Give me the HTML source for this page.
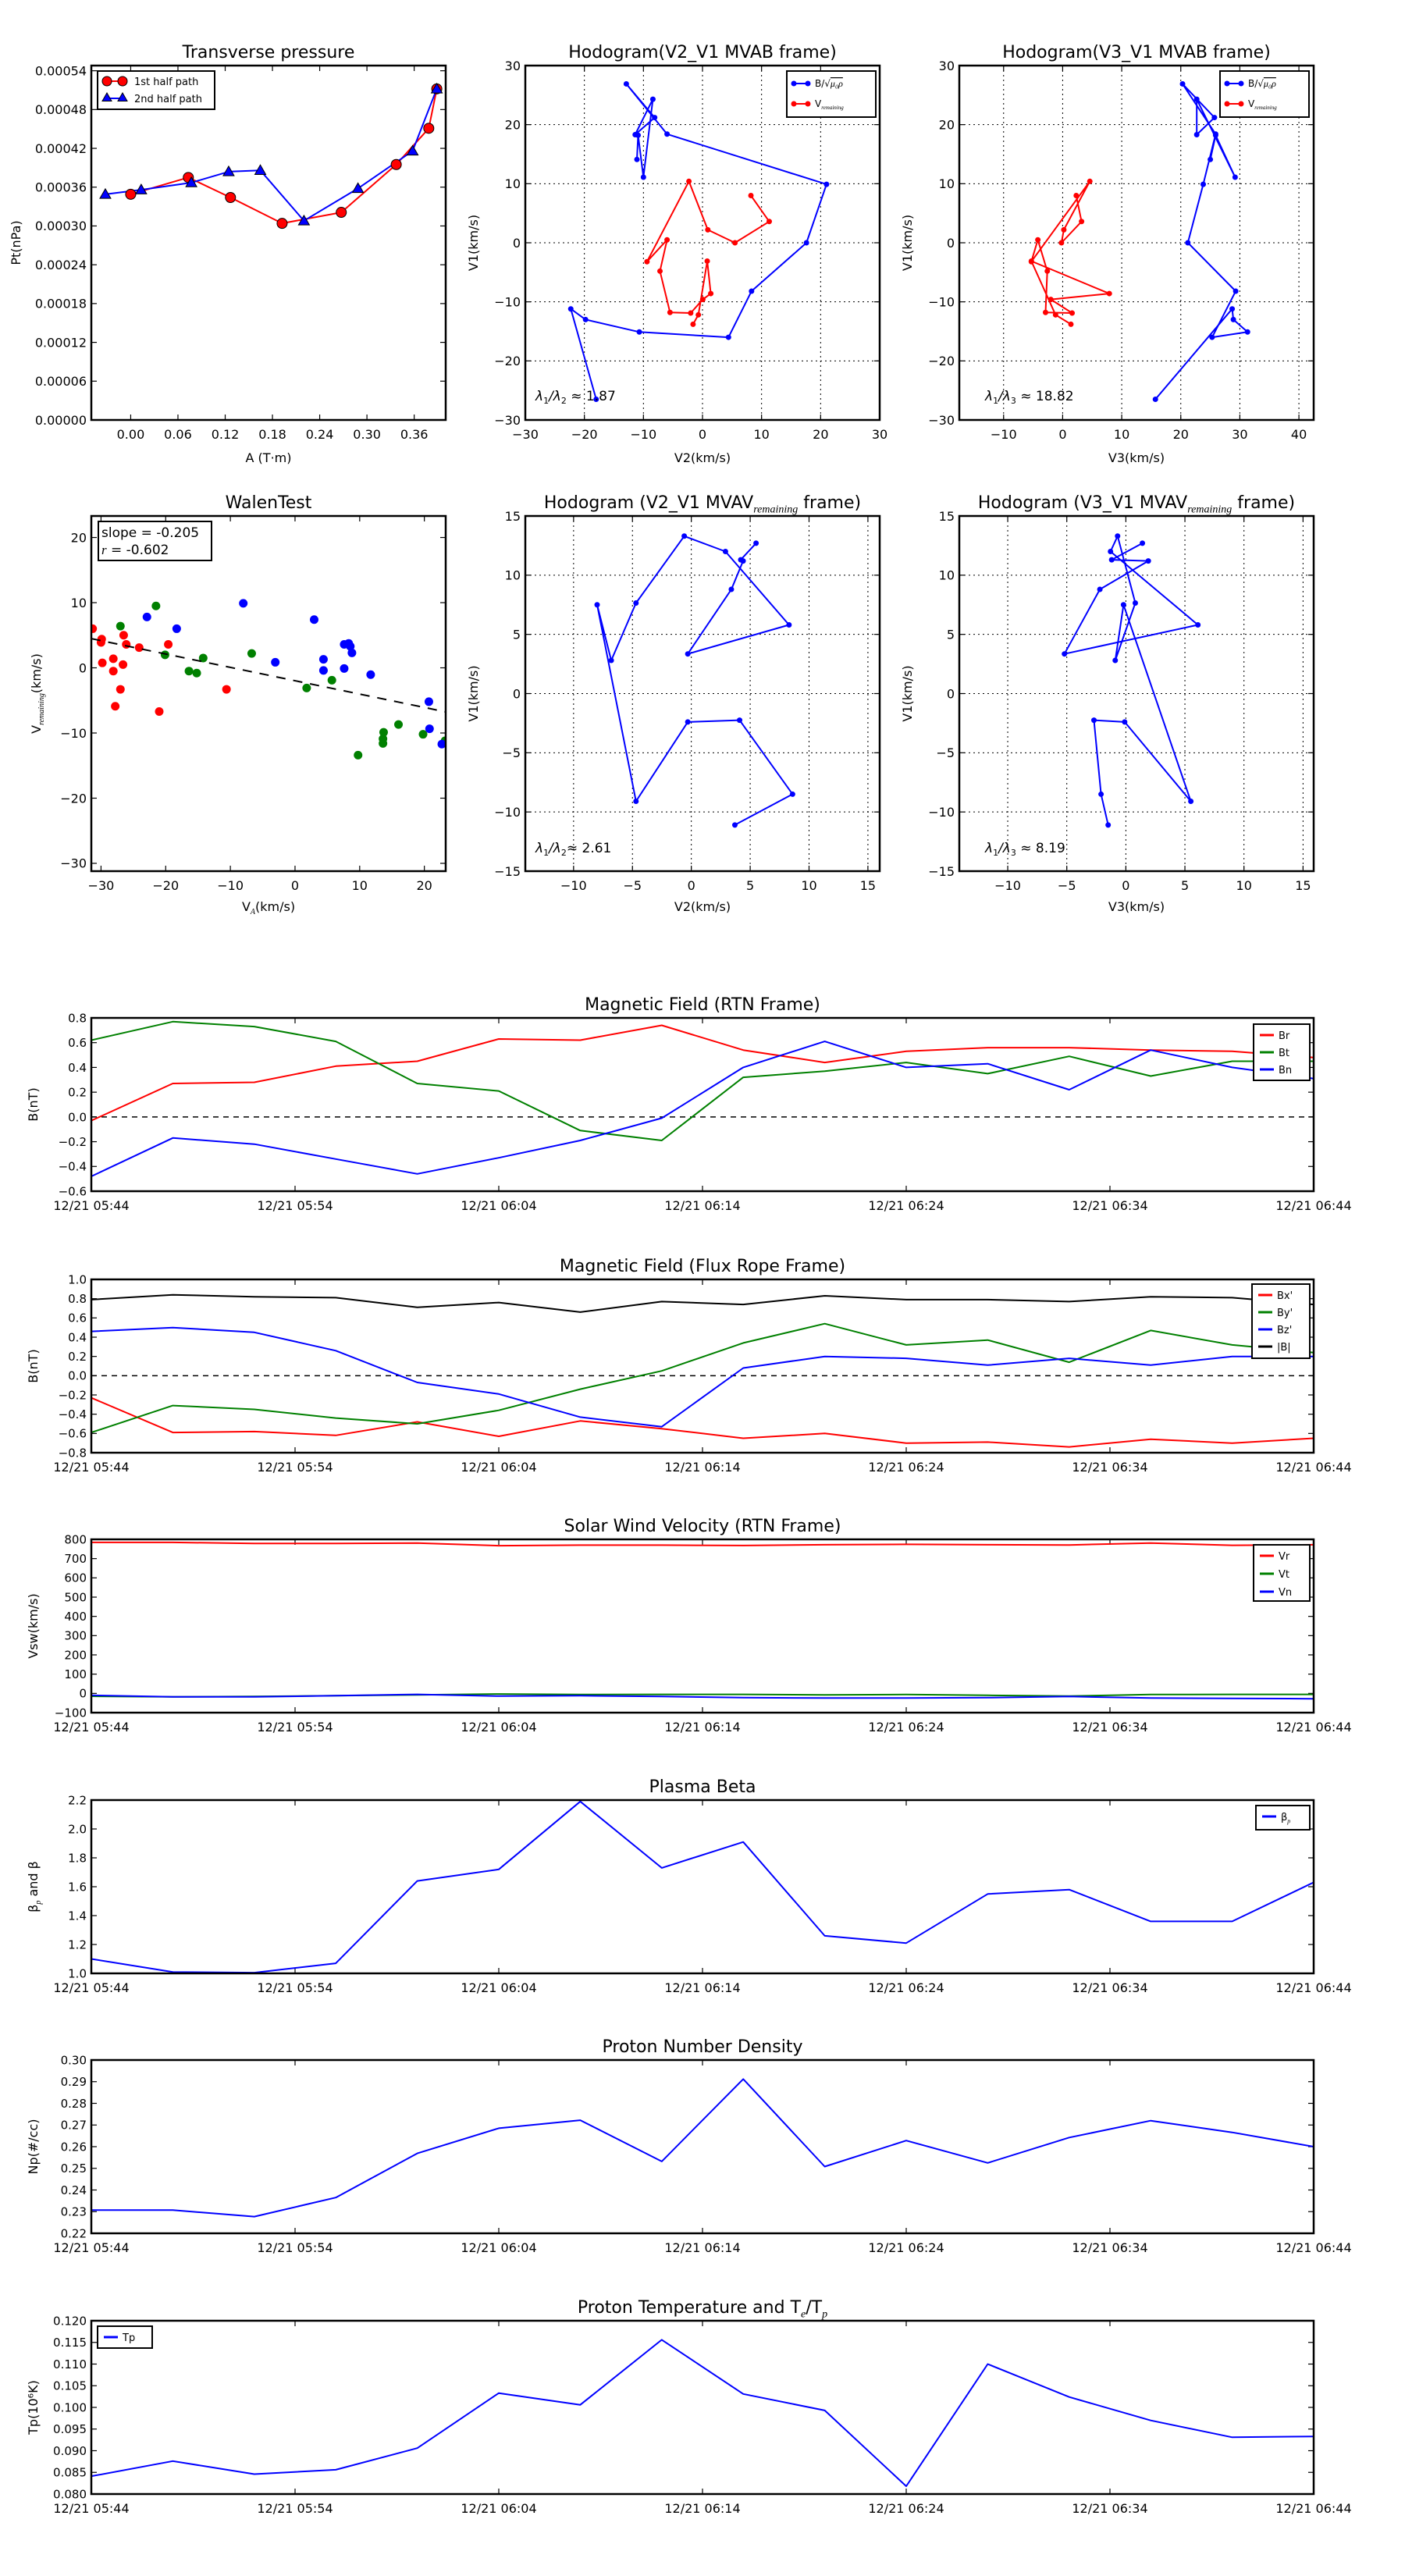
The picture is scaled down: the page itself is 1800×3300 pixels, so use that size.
<!DOCTYPE html>
<html>
<head>
<meta charset="utf-8">
<style>
html,body{margin:0;padding:0;background:#fff;}
svg{display:block;font-family:"DejaVu Sans","Liberation Sans",sans-serif;}
</style>
</head>
<body>
<svg id="chart" xmlns="http://www.w3.org/2000/svg" width="1800" height="3300" viewBox="0 0 1800 3300">
<rect x="0" y="0" width="1800" height="3300" fill="#fff"/>
</svg>
<script>
// ---------------- DATA ----------------
// Transverse pressure
const tpA1 = [0.0, 0.0732, 0.1267, 0.1923, 0.2674, 0.3372, 0.3785, 0.3887];
const tpP1 = [0.000349, 0.000375, 0.000344, 0.000304, 0.000321, 0.000395, 0.000451, 0.000512];
const tpA2 = [-0.0322, 0.0133, 0.0770, 0.1244, 0.1646, 0.2200, 0.2886, 0.3580, 0.3887];
const tpP2 = [0.000349, 0.000356, 0.000367, 0.000384, 0.000386, 0.000308, 0.000358, 0.000416, 0.000512];
// Hodogram MVAB (B)
const hbV1 = [-26.5, -11.2, -13.0, -15.1, -16.0, -8.2, 0.0, 9.9, 18.4, 26.9, 21.2, 18.3, 24.3, 11.1, 18.2, 14.1];
const hbV2 = [-18.0, -22.3, -19.8, -10.7, 4.4, 8.3, 17.6, 21.0, -6.0, -12.9, -8.1, -11.4, -8.4, -10.0, -10.9, -11.1];
const hbV3 = [15.7, 28.7, 28.9, 31.3, 25.3, 29.3, 21.2, 23.8, 25.9, 20.3, 25.7, 22.7, 22.7, 29.2, 25.9, 25.0];
// Hodogram MVAB (V remaining)
const hvV1 = [8.0, 3.6, 0.0, 2.2, 10.4, -3.2, 0.5, -4.8, -11.8, -11.9, -9.6, -8.6, -3.1, -12.2, -13.8];
const hvV2 = [8.2, 11.3, 5.5, 0.9, -2.3, -9.4, -6.0, -7.2, -5.5, -2.0, 0.05, 1.4, 0.8, -0.7, -1.6];
const hvV3 = [2.3, 3.2, -0.2, 0.2, 4.6, -5.3, -4.2, -2.6, -2.9, 1.6, -2.0, 7.9, -5.3, -1.2, 1.4];
// Hodogram MVAV remaining
const hrV1 = [-11.1, -8.5, -2.25, -2.4, -9.1, 7.5, 2.8, 7.65, 13.3, 12.0, 5.8, 3.35, 8.8, 11.2, 11.3, 12.7];
const hrV2 = [3.7, 8.6, 4.1, -0.3, -4.7, -8.0, -6.8, -4.7, -0.6, 2.9, 8.3, -0.3, 3.4, 4.4, 4.2, 5.5];
const hrV3 = [-1.5, -2.1, -2.7, -0.1, 5.5, -0.2, -0.9, 0.8, -0.7, -1.3, 6.1, -5.2, -2.2, 1.9, -1.2, 1.4];
// Walen test
const walRedX = [-31.3, -29.9, -30.0, -29.8, -28.1, -28.1, -27.8, -27.0, -26.6, -26.5, -26.1, -24.1, -21.0, -19.6, -10.6];
const walRedY = [6.0, 4.4, 3.9, 0.76, 1.4, -0.5, -5.9, -3.3, 0.5, 5.0, 3.6, 3.1, -6.7, 3.6, -3.3];
const walGreenX = [-27.0, -21.5, -20.1, -16.4, -15.2, -14.2, -6.7, 1.8, 5.7, 9.75, 13.6, 13.6, 13.7, 16.0, 19.8, 23.2];
const walGreenY = [6.4, 9.5, 2.0, -0.5, -0.8, 1.5, 2.2, -3.1, -1.9, -13.4, -11.6, -10.9, -9.9, -8.7, -10.2, -11.2];
const walBlueX = [-22.9, -18.3, -8.0, -3.05, 2.96, 4.4, 4.4, 7.6, 7.6, 8.3, 8.55, 8.8, 11.7, 20.7, 20.8, 22.7];
const walBlueY = [7.8, 6.0, 9.9, 0.85, 7.4, 1.3, -0.4, -0.1, 3.6, 3.75, 3.3, 2.3, -1.05, -5.2, -9.35, -11.7];
const walSlope = -0.205;
const walIntercept = -1.98;
// Time series (minutes after 12/21 05:44)
const tsMinutes = [0, 4, 8, 12, 16, 20, 24, 28, 32, 36, 40, 44, 48, 52, 56, 60];
const tsTickMinutes = [0, 10, 20, 30, 40, 50, 60];
const tsTickLabels = ['12/21 05:44', '12/21 05:54', '12/21 06:04', '12/21 06:14', '12/21 06:24', '12/21 06:34', '12/21 06:44'];
const brVals = [-0.03, 0.27, 0.28, 0.41, 0.45, 0.63, 0.62, 0.74, 0.54, 0.44, 0.53, 0.56, 0.56, 0.54, 0.53, 0.48];
const btVals = [0.62, 0.77, 0.73, 0.61, 0.27, 0.21, -0.11, -0.19, 0.32, 0.37, 0.44, 0.35, 0.49, 0.33, 0.45, 0.45];
const bnVals = [-0.48, -0.17, -0.22, -0.34, -0.46, -0.33, -0.19, -0.01, 0.40, 0.61, 0.40, 0.43, 0.22, 0.54, 0.40, 0.31];
const bxpVals = [-0.23, -0.59, -0.58, -0.62, -0.48, -0.63, -0.47, -0.55, -0.65, -0.60, -0.70, -0.69, -0.74, -0.66, -0.70, -0.65];
const bypVals = [-0.59, -0.31, -0.35, -0.44, -0.50, -0.36, -0.14, 0.05, 0.34, 0.54, 0.32, 0.37, 0.14, 0.47, 0.32, 0.24];
const bzpVals = [0.46, 0.50, 0.45, 0.26, -0.07, -0.19, -0.43, -0.53, 0.08, 0.20, 0.18, 0.11, 0.18, 0.11, 0.20, 0.20];
const bmagVals = [0.79, 0.84, 0.82, 0.81, 0.71, 0.76, 0.66, 0.77, 0.74, 0.83, 0.79, 0.79, 0.77, 0.82, 0.81, 0.74];
const vrVals = [784, 784, 779, 779, 781, 767, 770, 770, 768, 772, 774, 772, 771, 781, 769, 772];
const vtVals = [-15, -18, -16, -12, -8, -3, -6, -5, -5, -8, -6, -10, -14, -6, -5, -5];
const vnVals = [-10, -18, -18, -12, -5, -14, -12, -16, -22, -24, -24, -22, -16, -24, -26, -28];
const betaVals = [1.10, 1.01, 1.005, 1.07, 1.64, 1.72, 2.19, 1.73, 1.91, 1.26, 1.21, 1.55, 1.58, 1.36, 1.36, 1.63];
const npVals = [0.2307, 0.2307, 0.2277, 0.2365, 0.2569, 0.2685, 0.2722, 0.2532, 0.2912, 0.2508, 0.2628, 0.2525, 0.2642, 0.2720, 0.2666, 0.2600];
const tpVals = [0.0841, 0.0876, 0.0846, 0.0856, 0.0906, 0.1033, 0.1006, 0.1156, 0.1031, 0.0993, 0.0818, 0.1100, 0.1024, 0.0970, 0.0931, 0.0933];

// ---------------- HELPERS ----------------
const NS = 'http://www.w3.org/2000/svg';
const svg = document.getElementById('chart');
function el(tag, attrs, name, parent) {
  const e = document.createElementNS(NS, tag);
  for (const k in attrs) e.setAttribute(k, attrs[k]);
  
  
  (parent || svg).appendChild(e);
  return e;
}
// str may be a string or an array of [text, isSubscript]
function text(str, x, y, size, anchor, name, parent, extra) {
  const a = {x: x, y: y, 'font-size': size, 'text-anchor': anchor || 'middle', fill: '#000'};
  if (extra) for (const k in extra) a[k] = extra[k];
  const t = el('text', a, name, parent);
  if (Array.isArray(str)) {
    let prevSub = false;
    str.forEach(p => {
      const s = document.createElementNS(NS, 'tspan');
      const sub = !!p[1];
      if (sub !== prevSub) s.setAttribute('dy', sub ? size * 0.25 : -size * 0.25);
      if (sub) {
        s.setAttribute('font-size', Math.round(size * 0.62));
        s.setAttribute('font-style', 'italic');
        s.setAttribute('font-family', 'Liberation Serif, serif');
      }
      s.textContent = p[0];
      t.appendChild(s);
      prevSub = sub;
    });
  } else {
    t.textContent = str;
  }
  return t;
}
function rangeTicks(a, b, step) {
  const out = [];
  const n = Math.round((b - a) / step);
  for (let i = 0; i <= n; i++) out.push(a + i * step);
  return out;
}
function fmtMinus(s) { return s.replace('-', '\u2212'); }

function axes(cfg) {
  const {l, t, r, b} = cfg.box;
  const [x0, x1] = cfg.xlim, [y0, y1] = cfg.ylim;
  const sx = v => l + (v - x0) / (x1 - x0) * (r - l);
  const sy = v => b - (v - y0) / (y1 - y0) * (b - t);
  const g = el('g', {}, cfg.name);
  const fs = cfg.fs || 16;
  const xfs = cfg.xfs || fs;
  if (cfg.grid) {
    cfg.xticks.forEach(v => { const X = sx(v); el('line', {x1: X, x2: X, y1: t, y2: b, stroke: '#000', 'stroke-width': 1, 'stroke-dasharray': '2,4'}, 'x-gridline', g); });
    cfg.yticks.forEach(v => { const Y = sy(v); el('line', {x1: l, x2: r, y1: Y, y2: Y, stroke: '#000', 'stroke-width': 1, 'stroke-dasharray': '2,4'}, 'y-gridline', g); });
  }
  cfg.xticks.forEach((v, i) => {
    const X = sx(v);
    el('line', {x1: X, x2: X, y1: b, y2: b - 7, stroke: '#000', 'stroke-width': 1.2}, 'x-tick', g);
    el('line', {x1: X, x2: X, y1: t, y2: t + 7, stroke: '#000', 'stroke-width': 1.2}, 'x-tick', g);
    const lab = cfg.xlabels ? cfg.xlabels[i] : fmtMinus(cfg.xfmt(v));
    text(lab, X, b + (cfg.xlabOff || 24), xfs, 'middle', 'x-tick-label', g);
  });
  cfg.yticks.forEach(v => {
    const Y = sy(v);
    el('line', {x1: l, x2: l + 7, y1: Y, y2: Y, stroke: '#000', 'stroke-width': 1.2}, 'y-tick', g);
    el('line', {x1: r, x2: r - 7, y1: Y, y2: Y, stroke: '#000', 'stroke-width': 1.2}, 'y-tick', g);
    text(fmtMinus(cfg.yfmt(v)), l - 6, Y + fs * 0.36, fs, 'end', 'y-tick-label', g);
  });
  if (cfg.title) text(cfg.title, (l + r) / 2, cfg.titleY, 22, 'middle', 'chart-title', g);
  if (cfg.xlabel) text(cfg.xlabel, (l + r) / 2, cfg.xlabelY, 16, 'middle', 'x-axis-title', g);
  if (cfg.ylabel) text(cfg.ylabel, 0, 0, 16, 'middle', 'y-axis-title', g, {transform: 'translate(' + cfg.ylabelX + ',' + (t + b) / 2 + ') rotate(-90)'});
  return {sx, sy, g, l, t, r, b};
}
function frame(ax) {
  el('rect', {x: ax.l, y: ax.t, width: ax.r - ax.l, height: ax.b - ax.t, fill: 'none', stroke: '#000', 'stroke-width': 2.5}, 'plot-frame', ax.g);
}
function clip(ax, id) {
  const cp = el('clipPath', {id: id}, 'clip-region', ax.g);
  el('rect', {x: ax.l, y: ax.t, width: ax.r - ax.l, height: ax.b - ax.t}, 'clip-rect', cp);
  return el('g', {'clip-path': 'url(#' + id + ')'}, 'plot-area', ax.g);
}
function polyline(ax, xs, ys, color, w, name, parent) {
  const pts = xs.map((x, i) => ax.sx(x).toFixed(1) + ',' + ax.sy(ys[i]).toFixed(1)).join(' ');
  return el('polyline', {points: pts, fill: 'none', stroke: color, 'stroke-width': w, 'stroke-linejoin': 'round'}, name, parent || ax.g);
}
function dots(ax, xs, ys, color, r, name, parent, stroke) {
  xs.forEach((x, i) => {
    el('circle', {cx: ax.sx(x), cy: ax.sy(ys[i]), r: r, fill: color, stroke: stroke || 'none', 'stroke-width': 1}, name, parent || ax.g);
  });
}
function tri(cx, cy, s, color, name, parent) {
  const p = [cx + ',' + (cy - s), (cx - s) + ',' + (cy + s * 0.75), (cx + s) + ',' + (cy + s * 0.75)].join(' ');
  el('polygon', {points: p, fill: color, stroke: '#000', 'stroke-width': 1}, name, parent);
}
const f = d => v => v.toFixed(d);

// ---------------- ROW 1 ----------------
const C1 = {l: 117, r: 571}, C2 = {l: 673, r: 1127}, C3 = {l: 1229, r: 1683};
(function () {
  const ax = axes({name: 'transverse-pressure-chart', box: {l: C1.l, t: 84, r: C1.r, b: 538}, xlim: [-0.05, 0.40], ylim: [0, 0.000548],
    xticks: rangeTicks(0, 0.36, 0.06), yticks: rangeTicks(0, 0.00054, 0.00006), xfmt: f(2), yfmt: f(5),
    title: 'Transverse pressure', titleY: 74, xlabel: 'A (T\u00b7m)', xlabelY: 592, ylabel: 'Pt(nPa)', ylabelX: 26});
  polyline(ax, tpA1, tpP1, '#f00', 2, 'first-half-line');
  polyline(ax, tpA2, tpP2, '#00f', 2, 'second-half-line');
  dots(ax, tpA1, tpP1, '#f00', 6.5, 'first-half-marker', ax.g, '#000');
  tpA2.forEach((a, i) => tri(ax.sx(a), ax.sy(tpP2[i]), 7, '#00f', 'second-half-marker', ax.g));
  frame(ax);
  const lg = el('g', {}, 'legend', ax.g);
  el('rect', {x: 125, y: 91, width: 150, height: 49, fill: '#fff', stroke: '#000', 'stroke-width': 2}, 'legend-box', lg);
  el('line', {x1: 137, x2: 157, y1: 104, y2: 104, stroke: '#f00', 'stroke-width': 2}, 'legend-line', lg);
  el('circle', {cx: 137, cy: 104, r: 6, fill: '#f00', stroke: '#000'}, 'legend-marker', lg);
  el('circle', {cx: 157, cy: 104, r: 6, fill: '#f00', stroke: '#000'}, 'legend-marker', lg);
  text('1st half path', 172, 109, 13, 'start', 'legend-entry', lg);
  el('line', {x1: 137, x2: 157, y1: 126, y2: 126, stroke: '#00f', 'stroke-width': 2}, 'legend-line', lg);
  tri(137, 125, 6, '#00f', 'legend-marker', lg);
  tri(157, 125, 6, '#00f', 'legend-marker', lg);
  text('2nd half path', 172, 131, 13, 'start', 'legend-entry', lg);
})();

function hodoLegend(ax, x, y) {
  const lg = el('g', {}, 'legend', ax.g);
  el('rect', {x: x, y: y, width: 114, height: 59, fill: '#fff', stroke: '#000', 'stroke-width': 2}, 'legend-box', lg);
  el('line', {x1: x + 8, x2: x + 28, y1: y + 16, y2: y + 16, stroke: '#00f', 'stroke-width': 2}, 'legend-line', lg);
  el('circle', {cx: x + 9, cy: y + 16, r: 3.5, fill: '#00f'}, 'legend-marker', lg);
  el('circle', {cx: x + 27, cy: y + 16, r: 3.5, fill: '#00f'}, 'legend-marker', lg);
  const t1 = text('B/\u221a', x + 36, y + 20, 12, 'start', 'legend-entry', lg);
  const ts = document.createElementNS(NS, 'tspan');
  ts.setAttribute('font-style', 'italic');
  ts.setAttribute('font-family', 'Liberation Serif, serif');
  ts.setAttribute('text-decoration', 'overline');
  ts.textContent = '\u03bc\u2080\u03c1';
  t1.appendChild(ts);
  el('line', {x1: x + 8, x2: x + 28, y1: y + 42, y2: y + 42, stroke: '#f00', 'stroke-width': 2}, 'legend-line', lg);
  el('circle', {cx: x + 9, cy: y + 42, r: 3.5, fill: '#f00'}, 'legend-marker', lg);
  el('circle', {cx: x + 27, cy: y + 42, r: 3.5, fill: '#f00'}, 'legend-marker', lg);
  text([['V', false], ['remaining', true]], x + 36, y + 46, 12, 'start', 'legend-entry', lg);
}
function subLabel(parent, x, y, a, rest, name) {
  const t = text('', x, y, 17, 'start', name, parent);
  const parts = [['\u03bb', 0, 'italic'], ['1', 4, ''], ['/', -4, 'italic'], ['\u03bb', 0, 'italic'], [a, 4, ''], [rest, -4, '']];
  parts.forEach(p => {
    const s = document.createElementNS(NS, 'tspan');
    s.setAttribute('dy', p[1]);
    if (p[2]) s.setAttribute('font-style', p[2]);
    if (p[1] > 0) s.setAttribute('font-size', '11');
    s.textContent = p[0];
    t.appendChild(s);
  });
}

(function () {
  const ax = axes({name: 'hodogram-v2-v1-mvab', box: {l: C2.l, t: 84, r: C2.r, b: 538}, xlim: [-30, 30], ylim: [-30, 30],
    xticks: rangeTicks(-30, 30, 10), yticks: rangeTicks(-30, 30, 10), xfmt: f(0), yfmt: f(0), grid: true,
    title: 'Hodogram(V2_V1 MVAB frame)', titleY: 74, xlabel: 'V2(km/s)', xlabelY: 592, ylabel: 'V1(km/s)', ylabelX: 612});
  polyline(ax, hbV2, hbV1, '#00f', 2, 'b-field-path');
  dots(ax, hbV2, hbV1, '#00f', 3.5, 'b-field-point');
  polyline(ax, hvV2, hvV1, '#f00', 2, 'v-remaining-path');
  dots(ax, hvV2, hvV1, '#f00', 3.5, 'v-remaining-point');
  frame(ax);
  hodoLegend(ax, 1008, 91);
  subLabel(ax.g, 686, 513, '2', ' \u2248 1.87', 'eigenvalue-ratio');
})();
(function () {
  const ax = axes({name: 'hodogram-v3-v1-mvab', box: {l: C3.l, t: 84, r: C3.r, b: 538}, xlim: [-17.5, 42.5], ylim: [-30, 30],
    xticks: rangeTicks(-10, 40, 10), yticks: rangeTicks(-30, 30, 10), xfmt: f(0), yfmt: f(0), grid: true,
    title: 'Hodogram(V3_V1 MVAB frame)', titleY: 74, xlabel: 'V3(km/s)', xlabelY: 592, ylabel: 'V1(km/s)', ylabelX: 1168});
  polyline(ax, hbV3, hbV1, '#00f', 2, 'b-field-path');
  dots(ax, hbV3, hbV1, '#00f', 3.5, 'b-field-point');
  polyline(ax, hvV3, hvV1, '#f00', 2, 'v-remaining-path');
  dots(ax, hvV3, hvV1, '#f00', 3.5, 'v-remaining-point');
  frame(ax);
  hodoLegend(ax, 1563, 91);
  subLabel(ax.g, 1262, 513, '3', ' \u2248 18.82', 'eigenvalue-ratio');
})();

// ---------------- ROW 2 ----------------
(function () {
  const ax = axes({name: 'walen-test-chart', box: {l: C1.l, t: 661, r: C1.r, b: 1116}, xlim: [-31.5, 23.3], ylim: [-31.2, 23.3],
    xticks: rangeTicks(-30, 20, 10), yticks: rangeTicks(-30, 20, 10), xfmt: f(0), yfmt: f(0),
    title: 'WalenTest', titleY: 651, xlabel: [['V', false], ['A', true], ['(km/s)', false]], xlabelY: 1167,
    ylabel: [['V', false], ['remaining', true], ['(km/s)', false]], ylabelX: 52});
  const pa = clip(ax, 'walclip');
  dots(ax, walRedX, walRedY, '#f00', 5.5, 'walen-red-point', pa);
  dots(ax, walGreenX, walGreenY, '#008000', 5.5, 'walen-green-point', pa);
  dots(ax, walBlueX, walBlueY, '#00f', 5.5, 'walen-blue-point', pa);
  const fx = [-31.5, 23.3];
  el('line', {x1: ax.sx(fx[0]), y1: ax.sy(walSlope * fx[0] + walIntercept), x2: ax.sx(fx[1]), y2: ax.sy(walSlope * fx[1] + walIntercept),
    stroke: '#000', 'stroke-width': 2, 'stroke-dasharray': '12,10'}, 'fit-line', pa);
  frame(ax);
  const lg = el('g', {}, 'stats-box', ax.g);
  el('rect', {x: 126, y: 668, width: 145, height: 50, fill: '#fff', stroke: '#000', 'stroke-width': 2}, 'stats-frame', lg);
  text('slope = -0.205', 130, 688, 17, 'start', 'slope-text', lg);
  const rt = text('', 130, 710, 17, 'start', 'r-text', lg);
  const ri = document.createElementNS(NS, 'tspan');
  ri.setAttribute('font-style', 'italic');
  ri.setAttribute('font-family', 'Liberation Serif, serif');
  ri.textContent = 'r';
  rt.appendChild(ri);
  const rr = document.createElementNS(NS, 'tspan');
  rr.textContent = ' = -0.602';
  rt.appendChild(rr);
})();
(function () {
  const ax = axes({name: 'hodogram-v2-v1-mvav', box: {l: C2.l, t: 661, r: C2.r, b: 1116}, xlim: [-14.1, 16], ylim: [-15, 15],
    xticks: rangeTicks(-10, 15, 5), yticks: rangeTicks(-15, 15, 5), xfmt: f(0), yfmt: f(0), grid: true,
    title: [['Hodogram (V2_V1 MVAV', false], ['remaining', true], [' frame)', false]], titleY: 651, xlabel: 'V2(km/s)', xlabelY: 1167, ylabel: 'V1(km/s)', ylabelX: 612});
  polyline(ax, hrV2, hrV1, '#00f', 2, 'v-remaining-path');
  dots(ax, hrV2, hrV1, '#00f', 3.5, 'v-remaining-point');
  frame(ax);
  subLabel(ax.g, 686, 1092, '2', '\u2248 2.61', 'eigenvalue-ratio');
})();
(function () {
  const ax = axes({name: 'hodogram-v3-v1-mvav', box: {l: C3.l, t: 661, r: C3.r, b: 1116}, xlim: [-14.1, 15.9], ylim: [-15, 15],
    xticks: rangeTicks(-10, 15, 5), yticks: rangeTicks(-15, 15, 5), xfmt: f(0), yfmt: f(0), grid: true,
    title: [['Hodogram (V3_V1 MVAV', false], ['remaining', true], [' frame)', false]], titleY: 651, xlabel: 'V3(km/s)', xlabelY: 1167, ylabel: 'V1(km/s)', ylabelX: 1168});
  polyline(ax, hrV3, hrV1, '#00f', 2, 'v-remaining-path');
  dots(ax, hrV3, hrV1, '#00f', 3.5, 'v-remaining-point');
  frame(ax);
  subLabel(ax.g, 1262, 1092, '3', ' \u2248 8.19', 'eigenvalue-ratio');
})();

// ---------------- TIME SERIES ----------------
function tsPanel(name, top, ylim, step, dec, title, ylabel, series, legend, zero) {
  const ax = axes({name: name, box: {l: 117, t: top, r: 1683, b: top + 222}, xlim: [0, 60], ylim: ylim, fs: 15, xfs: 16,
    xticks: tsTickMinutes, xlabels: tsTickLabels, yticks: rangeTicks(ylim[0], ylim[1], step), xfmt: f(0), yfmt: f(dec),
    title: title, titleY: top - 10, ylabel: ylabel, ylabelX: 48, xlabOff: 24});
  if (zero) el('line', {x1: 117, x2: 1683, y1: ax.sy(0), y2: ax.sy(0), stroke: '#000', 'stroke-width': 1.5, 'stroke-dasharray': '7,6'}, 'zero-line', ax.g);
  const pa = clip(ax, name + '-clip');
  series.forEach(s => polyline(ax, tsMinutes, s.v, s.c, 2, s.n, pa));
  frame(ax);
  if (legend) {
    const lg = el('g', {}, 'legend', ax.g);
    el('rect', {x: legend.x, y: legend.y, width: legend.w, height: legend.h, fill: '#fff', stroke: '#000', 'stroke-width': 2}, 'legend-box', lg);
    series.forEach((s, i) => {
      const yy = legend.y + 14 + i * legend.dy;
      el('line', {x1: legend.x + 8, x2: legend.x + 26, y1: yy, y2: yy, stroke: s.c, 'stroke-width': 3}, 'legend-swatch', lg);
      text(s.label, legend.x + 32, yy + 5, 13, 'start', 'legend-entry', lg);
    });
  }
  return ax;
}
tsPanel('magnetic-field-rtn-chart', 1304, [-0.6, 0.8], 0.2, 1, 'Magnetic Field (RTN Frame)', 'B(nT)', [
  {v: brVals, c: '#f00', n: 'br-line', label: 'Br'}, {v: btVals, c: '#008000', n: 'bt-line', label: 'Bt'}, {v: bnVals, c: '#00f', n: 'bn-line', label: 'Bn'}],
  {x: 1606, y: 1312, w: 72, h: 72, dy: 22}, true);
tsPanel('magnetic-field-flux-rope-chart', 1639, [-0.8, 1.0], 0.2, 1, 'Magnetic Field (Flux Rope Frame)', 'B(nT)', [
  {v: bxpVals, c: '#f00', n: 'bx-prime-line', label: "Bx'"}, {v: bypVals, c: '#008000', n: 'by-prime-line', label: "By'"},
  {v: bzpVals, c: '#00f', n: 'bz-prime-line', label: "Bz'"}, {v: bmagVals, c: '#000', n: 'b-magnitude-line', label: '|B|'}],
  {x: 1604, y: 1645, w: 74, h: 95, dy: 22}, true);
tsPanel('solar-wind-velocity-chart', 1972, [-100, 800], 100, 0, 'Solar Wind Velocity (RTN Frame)', 'Vsw(km/s)', [
  {v: vrVals, c: '#f00', n: 'vr-line', label: 'Vr'}, {v: vtVals, c: '#008000', n: 'vt-line', label: 'Vt'}, {v: vnVals, c: '#00f', n: 'vn-line', label: 'Vn'}],
  {x: 1606, y: 1979, w: 72, h: 72, dy: 23}, false);
tsPanel('plasma-beta-chart', 2306, [1.0, 2.2], 0.2, 1, 'Plasma Beta', [['\u03b2', false], ['p', true], [' and \u03b2', false]], [
  {v: betaVals, c: '#00f', n: 'beta-p-line', label: [['\u03b2', false], ['p', true]]}],
  {x: 1609, y: 2313, w: 69, h: 31, dy: 22}, false);
tsPanel('proton-density-chart', 2639, [0.22, 0.30], 0.01, 2, 'Proton Number Density', 'Np(#/cc)', [
  {v: npVals, c: '#00f', n: 'np-line'}], null, false);
tsPanel('proton-temperature-chart', 2973, [0.08, 0.12], 0.005, 3, [['Proton Temperature and T', false], ['e', true], ['/T', false], ['p', true]], 'Tp(10\u2076K)', [
  {v: tpVals, c: '#00f', n: 'tp-line', label: 'Tp'}],
  {x: 125, y: 2980, w: 70, h: 28, dy: 22}, false);
</script>
</body>
</html>
